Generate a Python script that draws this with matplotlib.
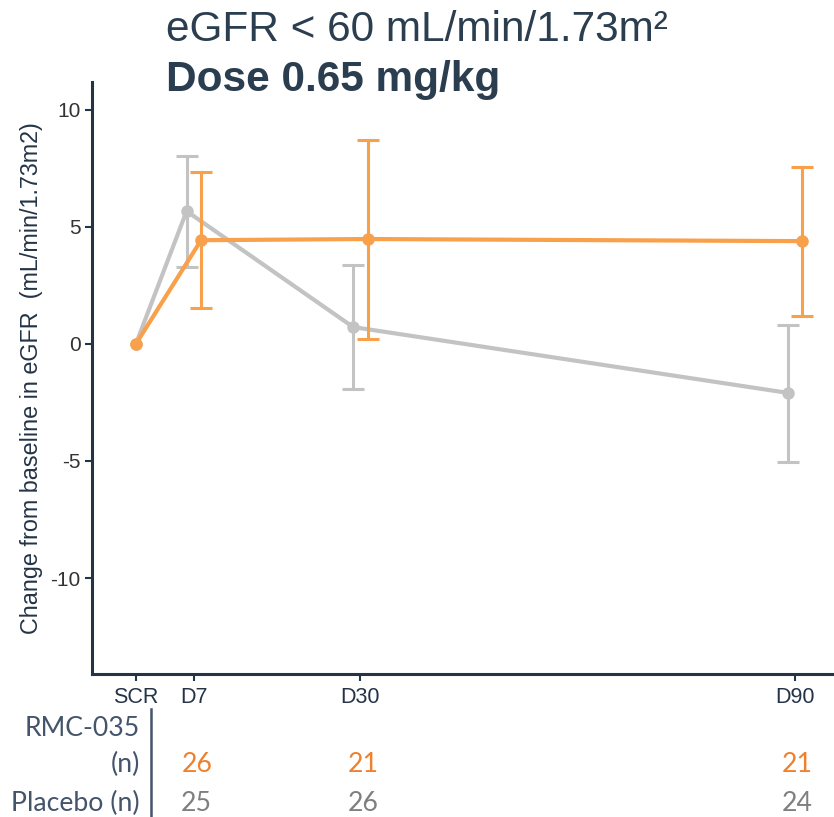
import numpy as np
import matplotlib.pyplot as plt
from matplotlib import transforms

plt.rcParams["axes.unicode_minus"] = False
plt.rcParams["font.family"] = ["Liberation Sans", "DejaVu Sans"]

# visit days (SCR is plotted one day before dosing)
visit_labels = ["SCR", "D7", "D30", "D90"]
visit_days = [-1, 7, 30, 90]

# placebo: mean change and error bar limits
pbo_mean = [0.0, 5.67, 0.72, -2.09]
pbo_upper = [np.nan, 8.02, 3.37, 0.81]
pbo_lower = [np.nan, 3.28, -1.92, -5.03]

# RMC-035: mean change and error bar limits
rmc_mean = [0.0, 4.43, 4.48, 4.39]
rmc_upper = [np.nan, 7.33, 8.70, 7.55]
rmc_lower = [np.nan, 1.53, 0.21, 1.19]

# subjects per visit (D7, D30, D90)
rmc_n = [26, 21, 21]
pbo_n = [25, 26, 24]

navy = "#243447"
label_col = "#44546A"
orange = "#F9A04B"
grey = "#C3C3C3"

fig = plt.figure(figsize=(8.34, 8.17), dpi=100)
ax = fig.add_axes([0.110, 0.175, 0.889, 0.725])

days = np.array(visit_days, dtype=float)
shift = np.array([0, 1, 1, 1]) * 1.0  # small dodge so the bars don't overlap


def draw_series(x, mean, lo, hi, color, z):
    mean = np.array(mean)
    lo = np.array(lo)
    hi = np.array(hi)
    ax.plot(x, mean, color=color, lw=3, marker="o", ms=8, zorder=z)
    yerr = np.vstack([mean - lo, hi - mean])
    ok = ~np.isnan(lo)
    ax.errorbar(x[ok], mean[ok], yerr=yerr[:, ok], fmt="none", ecolor=color,
                elinewidth=2.2, capsize=8, capthick=2.2, zorder=z)


draw_series(days - shift, pbo_mean, pbo_lower, pbo_upper, grey, 2)
draw_series(days + shift, rmc_mean, rmc_lower, rmc_upper, orange, 3)

ax.set_xlim(-7.1, 95.3)
ax.set_ylim(-14.1, 11.2)
ax.set_yticks([-10, -5, 0, 5, 10])
ax.set_xticks(visit_days)
ax.set_xticklabels(visit_labels, fontsize=15.5, color=navy)
ax.tick_params(axis="y", labelsize=15, colors=navy, labelcolor="#333333",
               length=5, width=1.5, pad=3)
ax.tick_params(axis="x", colors=navy, length=5, width=1.5, pad=4)

for side in ["top", "right"]:
    ax.spines[side].set_visible(False)
for side in ["left", "bottom"]:
    ax.spines[side].set_color(navy)
    ax.spines[side].set_linewidth(2.2)

ax.set_ylabel("Change from baseline in eGFR  (mL/min/1.73m2)", fontsize=16.8,
              color=navy, labelpad=5)

# titles
fig.text(0.199, 0.950, "eGFR < 60 mL/min/1.73m\u00b2", fontsize=30.5, color="#2B3E50",
         va="baseline")
fig.text(0.199, 0.889, "Dose 0.65 mg/kg", fontsize=30.5, color="#2B3E50",
         weight="bold", va="baseline")

# n table under the axis
trans = transforms.blended_transform_factory(ax.transData, fig.transFigure)
fig.add_artist(plt.Line2D([0.181, 0.181], [0.0, 0.132], color=label_col, lw=1.8,
                          transform=fig.transFigure))
tfont = dict(family="Lato", fontsize=19.2)
fig.text(0.168, 0.108, "RMC-035", color=label_col, ha="right", va="center", **tfont)
fig.text(0.168, 0.064, "(n)", color=label_col, ha="right", va="center", **tfont)
fig.text(0.168, 0.017, "Placebo (n)", color=label_col, ha="right", va="center", **tfont)
for d, a, b in zip(visit_days[1:], rmc_n, pbo_n):
    ax.text(d + 0.4, 0.064, str(a), transform=trans, color="#F0802B", ha="center",
            va="center", **tfont)
    ax.text(d + 0.4, 0.017, str(b), transform=trans, color="#7F7F7F", ha="center",
            va="center", **tfont)

fig.savefig("out.png", dpi=100)
